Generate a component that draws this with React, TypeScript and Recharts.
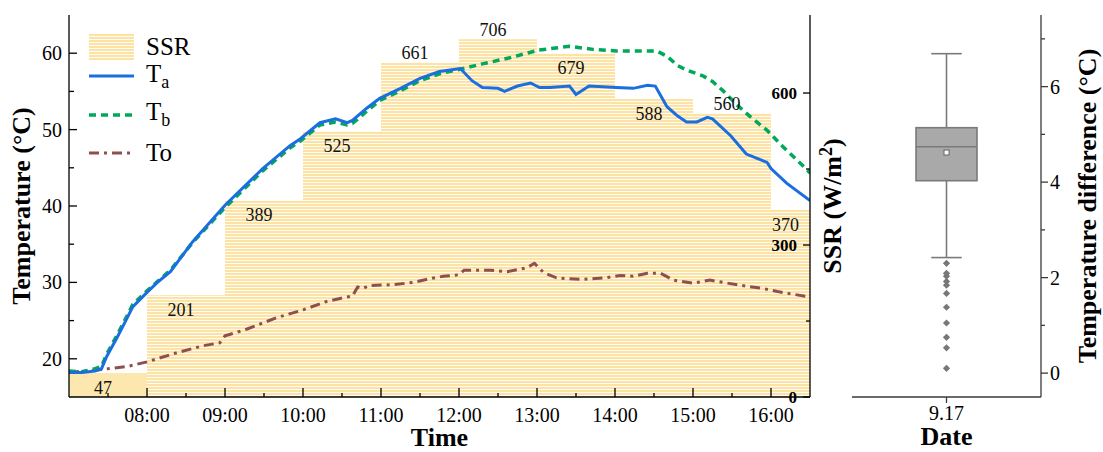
import React from 'react';
import { ComposedChart, Line, Area, XAxis, YAxis, Legend, Bar, Scatter, Label } from 'recharts';

const FONT = '"Liberation Serif", "Times New Roman", Times, serif';

// ---------------- SSR (hourly bars) ----------------
const ssrStarts = ['07:00', '08:00', '09:00', '10:00', '11:00', '12:00', '13:00', '14:00', '15:00', '16:00'];
const ssrEnds = ['08:00', '09:00', '10:00', '11:00', '12:00', '13:00', '14:00', '15:00', '16:00', '16:30'];
const ssrValues = [47, 201, 389, 525, 661, 706, 679, 588, 560, 370];
const ssrLabelAbove = [false, false, false, false, true, true, false, false, true, false];

// ---------------- Temperatures ----------------
const taTimes = ['07:00', '07:10', '07:20', '07:25', '07:29', '07:37', '07:44', '07:49', '08:00', '08:08', '08:18', '08:35', '09:00', '09:29', '09:50', '09:58', '10:13', '10:25', '10:34', '10:38', '10:49', '10:59', '11:15', '11:30', '11:45', '12:01', '12:10', '12:18', '12:30', '12:35', '12:45', '12:55', '13:02', '13:10', '13:25', '13:30', '13:40', '14:01', '14:14', '14:25', '14:31', '14:40', '14:48', '14:55', '15:03', '15:11', '15:15', '15:29', '15:41', '15:57', '16:00', '16:12', '16:30'];
const taValues = [18.2, 18.2, 18.4, 18.7, 20.3, 22.8, 25.1, 26.8, 28.7, 30.0, 31.4, 35.3, 40.1, 44.9, 47.9, 48.8, 50.9, 51.4, 50.9, 51.2, 52.8, 54.1, 55.4, 56.7, 57.6, 58.0, 56.4, 55.5, 55.4, 55.0, 55.7, 56.1, 55.5, 55.5, 55.7, 54.6, 55.7, 55.5, 55.4, 55.8, 55.7, 53.0, 51.8, 51.0, 51.0, 51.6, 51.4, 49.2, 46.8, 45.7, 44.9, 43.0, 40.7];

const tbTimes = ['07:00', '07:10', '07:20', '07:25', '07:29', '07:37', '07:44', '07:49', '08:00', '08:08', '08:18', '08:35', '09:00', '09:29', '09:50', '09:58', '10:13', '10:25', '10:34', '10:38', '10:49', '10:59', '11:15', '11:30', '11:45', '12:01', '12:18', '12:39', '13:01', '13:25', '13:43', '14:01', '14:32', '14:40', '14:48', '14:55', '15:08', '15:15', '15:23', '15:34', '15:44', '15:57', '16:09', '16:28', '16:30'];
const tbValues = [18.4, 18.3, 18.7, 19.0, 20.6, 23.1, 25.4, 27.1, 28.9, 30.1, 31.6, 35.2, 39.8, 44.6, 47.6, 48.5, 50.6, 51.0, 50.6, 50.8, 52.4, 53.8, 55.1, 56.4, 57.3, 57.9, 58.6, 59.4, 60.4, 60.9, 60.5, 60.3, 60.3, 59.6, 58.4, 57.8, 57.0, 56.3, 55.1, 53.2, 51.7, 49.9, 47.8, 44.7, 44.3];

const toTimes = ['07:00', '07:25', '07:45', '08:00', '08:23', '08:43', '08:56', '09:00', '09:17', '09:40', '10:00', '10:18', '10:31', '10:38', '10:42', '10:46', '10:51', '11:09', '11:25', '11:38', '11:48', '12:00', '12:04', '12:24', '12:37', '12:52', '12:58', '13:05', '13:15', '13:23', '13:35', '13:53', '14:04', '14:14', '14:25', '14:35', '14:45', '15:00', '15:13', '15:23', '15:41', '15:54', '16:05', '16:15', '16:30'];
const toValues = [18.2, 18.6, 19.0, 19.6, 20.8, 21.7, 22.1, 23.0, 23.9, 25.4, 26.4, 27.5, 28.0, 28.2, 29.4, 29.2, 29.6, 29.7, 30.0, 30.5, 30.8, 31.0, 31.6, 31.6, 31.4, 31.9, 32.5, 31.3, 30.6, 30.5, 30.4, 30.6, 30.9, 30.8, 31.2, 31.2, 30.3, 29.9, 30.3, 30.0, 29.5, 29.2, 28.8, 28.5, 28.1];

// ---------------- Axis ticks ----------------
const timeAxisTicks = ['07:30', '08:00', '08:30', '09:00', '09:30', '10:00', '10:30', '11:00', '11:30', '12:00', '12:30', '13:00', '13:30', '14:00', '14:30', '15:00', '15:30', '16:00'];
const timeDomain = ['07:00', '16:30'];
const tempAxisTicks = [20, 25, 30, 35, 40, 45, 50, 55, 60];
const tempDomain = [15, 65];
const ssrAxisTicks = [0, 150, 300, 450, 600];
const ssrDomain = [0, 754];

// ---------------- Box plot (temperature difference) ----------------
const boxDate = '9.17';
const boxWhisker = [2.42, 6.69];
const boxQ1 = 4.03;
const boxMedian = 4.74;
const boxQ3 = 5.14;
const boxMean = 4.62;
const boxOutliers = [2.3, 2.09, 2.03, 1.92, 1.84, 1.67, 1.38, 1.05, 0.75, 0.53, 0.1];
const diffAxisTicks = [0, 1, 2, 3, 4, 5, 6, 7];
const diffDomain = [-0.5, 7.5];

// ---------------- Colours ----------------
const BLUE = '#1A6EE0';
const GREEN = '#00A85A';
const BROWN = '#8E4F4F';
const SSR_YELLOW = '#FCE3A3';
const SSR_SOLID = '#FCE7AE';
const BOX_FILL = '#A9A9A9';
const BOX_LINE = '#7A7A7A';
const FRAME2 = '#3A3A3A';

const toMin = (s: string) => {
  const [h, m] = s.split(':').map(Number);
  return h * 60 + m;
};
const fmt = (m: number) =>
  `${String(Math.floor(m / 60)).padStart(2, '0')}:${String(m % 60).padStart(2, '0')}`;

// build merged table for the left chart
type Row = { t: number; [k: string]: any };
const rowMap = new Map<number, Row>();
const put = (m: number, key: string, v: any) => {
  let r = rowMap.get(m);
  if (!r) {
    r = { t: m };
    rowMap.set(m, r);
  }
  r[key] = v;
};
taTimes.forEach((s, i) => put(toMin(s), 'Ta', taValues[i]));
tbTimes.forEach((s, i) => put(toMin(s), 'Tb', tbValues[i]));
toTimes.forEach((s, i) => put(toMin(s), 'To', toValues[i]));
ssrStarts.forEach((s, i) => put(toMin(s), 'ssr', ssrValues[i]));
put(toMin(ssrEnds[ssrEnds.length - 1]), 'ssr', ssrValues[ssrValues.length - 1]);
put(toMin(ssrStarts[0]), 'ssrSolid', ssrValues[0]);
put(toMin(ssrEnds[0]), 'ssrSolid', ssrValues[0]);
ssrStarts.forEach((s, i) => {
  const mid = (toMin(s) + toMin(ssrEnds[i])) / 2;
  put(mid, 'ssrMid', ssrValues[i]);
  put(mid, 'ssrAbove', ssrLabelAbove[i]);
});
const lineData = Array.from(rowMap.values()).sort((a, b) => a.t - b.t);

const boxData = [{ date: boxDate, whisker: boxWhisker, q1: boxQ1, median: boxMedian, q3: boxQ3 }];
const outlierData = boxOutliers.map((v) => ({ date: boxDate, v }));
const meanData = [{ date: boxDate, v: boxMean }];

// ---------------- Ticks ----------------
const TimeTick = (props: any) => {
  const { x, y, payload } = props;
  const v = payload.value as number;
  const major = v % 60 === 0;
  return (
    <g>
      <line x1={x} x2={x} y1={y} y2={y - (major ? 9 : 4)} stroke="#000" strokeWidth={1.3} />
      {major && (
        <text x={x} y={y + 25} textAnchor="middle" fontFamily={FONT} fontSize={20} fill="#000">
          {fmt(v)}
        </text>
      )}
    </g>
  );
};

const TempTick = (props: any) => {
  const { x, y, payload } = props;
  const v = payload.value as number;
  const major = v % 10 === 0;
  return (
    <g>
      <line x1={x} x2={x + (major ? 8 : 5)} y1={y} y2={y} stroke="#000" strokeWidth={1.3} />
      {major && (
        <text x={x - 7} y={y + 7} textAnchor="end" fontFamily={FONT} fontSize={20} fill="#000">
          {v}
        </text>
      )}
    </g>
  );
};

const SsrTick = (props: any) => {
  const { x, y, payload } = props;
  const v = payload.value as number;
  const major = v % 300 === 0;
  return (
    <g>
      <line x1={x} x2={x - (major ? 7 : 4)} y1={y} y2={y} stroke="#000" strokeWidth={1.3} />
      {major && (
        <text x={x - 13} y={y + 6} textAnchor="end" fontFamily={FONT} fontSize={17} fontWeight="bold" fill="#000">
          {v}
        </text>
      )}
    </g>
  );
};

const DiffTick = (props: any) => {
  const { x, y, payload } = props;
  const v = payload.value as number;
  const major = v % 2 === 0;
  return (
    <g>
      <line x1={x} x2={x + (major ? 7 : 4)} y1={y} y2={y} stroke={FRAME2} strokeWidth={1.3} />
      {major && (
        <text x={x + 9} y={y + 7} textAnchor="start" fontFamily={FONT} fontSize={20} fill="#000">
          {v}
        </text>
      )}
    </g>
  );
};

const DateTick = (props: any) => {
  const { x, y, payload } = props;
  return (
    <g>
      <line x1={x} x2={x} y1={y} y2={y + 6} stroke={FRAME2} strokeWidth={1.3} />
      <text x={x} y={y + 23} textAnchor="middle" fontFamily={FONT} fontSize={20} fill="#000">
        {payload.value}
      </text>
    </g>
  );
};

// ---------------- Axis titles ----------------
const vTitle = (content: React.ReactNode, dxFromAxisLeft: number) => (props: any) => {
  const vb = props.viewBox || {};
  const cx = (vb.x ?? 0) + dxFromAxisLeft;
  const cy = (vb.y ?? 0) + (vb.height ?? 0) / 2;
  return (
    <text
      x={cx}
      y={cy}
      transform={`rotate(-90, ${cx}, ${cy})`}
      textAnchor="middle"
      fontFamily={FONT}
      fontSize={26}
      fontWeight="bold"
      fill="#000"
    >
      {content}
    </text>
  );
};

const hTitle = (content: React.ReactNode, dyFromAxisTop: number) => (props: any) => {
  const vb = props.viewBox || {};
  const cx = (vb.x ?? 0) + (vb.width ?? 0) / 2;
  const cy = (vb.y ?? 0) + dyFromAxisTop;
  return (
    <text x={cx} y={cy} textAnchor="middle" fontFamily={FONT} fontSize={26} fontWeight="bold" fill="#000">
      {content}
    </text>
  );
};

// ---------------- SSR value labels ----------------
const SsrValueLabel = (props: any) => {
  const { cx, cy, payload, index } = props;
  if (cy == null || cx == null || payload == null || payload.ssrMid == null) return <g key={`sl-${index}`} />;
  const above = !!payload.ssrAbove;
  return (
    <text
      key={`sl-${index}`}
      x={cx - 5}
      y={above ? cy - 9 + 6 : cy + 15 + 6}
      textAnchor="middle"
      fontFamily={FONT}
      fontSize={18}
      fill="#111"
    >
      {payload.ssrMid}
    </text>
  );
};

// ---------------- Legend ----------------
const LegendBox = () => (
  <svg width={170} height={150} style={{ display: 'block', overflow: 'visible' }}>
    <defs>
      <pattern id="ssrStripesLegend" x="0" y="0" width="6" height="3" patternUnits="userSpaceOnUse">
        <rect width="6" height="3" fill={SSR_YELLOW} />
        <rect y="2" width="6" height="1" fill="#FFFFFF" opacity="0.9" />
      </pattern>
    </defs>
    <rect x={4} y={8} width={45} height={27} fill="url(#ssrStripesLegend)" />
    <text x={61} y={30} fontFamily={FONT} fontSize={25} fill="#000">SSR</text>
    <line x1={4} x2={49} y1={51} y2={51} stroke={BLUE} strokeWidth={3} />
    <text x={61} y={57} fontFamily={FONT} fontSize={25} fill="#000">
      T<tspan dy={6} fontSize={18}>a</tspan>
    </text>
    <line x1={4} x2={49} y1={90} y2={90} stroke={GREEN} strokeWidth={3.5} strokeDasharray="7 5" />
    <text x={61} y={95} fontFamily={FONT} fontSize={25} fill="#000">
      T<tspan dy={6} fontSize={18}>b</tspan>
    </text>
    <line x1={4} x2={49} y1={128} y2={128} stroke={BROWN} strokeWidth={3} strokeDasharray="10 5 3 5" />
    <text x={61} y={136} fontFamily={FONT} fontSize={25} fill="#000">To</text>
  </svg>
);

// ---------------- Box shapes ----------------
const BoxShape = (props: any) => {
  const { x, y, width, height, payload } = props;
  if (payload == null) return <g />;
  const top = Math.min(y, y + height);
  const h = Math.abs(height);
  const [lo, hi] = payload.whisker;
  const py = (v: number) => top + (h * (hi - v)) / (hi - lo);
  const cx = x + width / 2;
  const cap = width / 4;
  return (
    <g>
      <line x1={cx} x2={cx} y1={top} y2={top + h} stroke={BOX_LINE} strokeWidth={1.6} />
      <line x1={cx - cap} x2={cx + cap} y1={top} y2={top} stroke={BOX_LINE} strokeWidth={1.6} />
      <line x1={cx - cap} x2={cx + cap} y1={top + h} y2={top + h} stroke={BOX_LINE} strokeWidth={1.6} />
      <rect
        x={x}
        y={py(payload.q3)}
        width={width}
        height={py(payload.q1) - py(payload.q3)}
        fill={BOX_FILL}
        stroke={BOX_LINE}
        strokeWidth={1.6}
      />
      <line x1={x} x2={x + width} y1={py(payload.median)} y2={py(payload.median)} stroke={BOX_LINE} strokeWidth={1.6} />
    </g>
  );
};

const DiamondShape = (props: any) => {
  const { cx, cy } = props;
  if (cx == null || cy == null) return <g />;
  const r = 3.6;
  return <path d={`M${cx},${cy - r}L${cx + r},${cy}L${cx},${cy + r}L${cx - r},${cy}Z`} fill="#777" />;
};

const MeanShape = (props: any) => {
  const { cx, cy } = props;
  if (cx == null || cy == null) return <g />;
  return <rect x={cx - 2.5} y={cy - 2.5} width={5} height={5} fill="#FFF" stroke="#666" strokeWidth={1} />;
};

const axisLineBlack = { stroke: '#000', strokeWidth: 1.3 };
const axisLineGray = { stroke: FRAME2, strokeWidth: 1.3 };

export default function App() {
  const tDomain = timeDomain.map(toMin);
  const tTicks = timeAxisTicks.map(toMin);
  return (
    <div
      style={{
        position: 'absolute',
        left: 0,
        top: 0,
        width: 1103,
        height: 452,
        background: '#fff',
        fontFamily: FONT,
      }}
    >
      <div style={{ position: 'absolute', left: 0, top: 0 }}>
        <ComposedChart width={850} height={452} data={lineData} margin={{ top: 15, right: 0, bottom: 0, left: 0 }}>
          <defs>
            <pattern id="ssrStripes" x="0" y="0" width="6" height="3" patternUnits="userSpaceOnUse">
              <rect width="6" height="3" fill={SSR_YELLOW} />
              <rect y="2" width="6" height="1" fill="#FFFFFF" opacity="0.9" />
            </pattern>
          </defs>
          <XAxis
            dataKey="t"
            type="number"
            domain={tDomain}
            ticks={tTicks}
            interval={0}
            tickSize={0}
            tickMargin={0}
            tickLine={false}
            tick={TimeTick}
            axisLine={axisLineBlack}
            height={55}
            allowDataOverflow
          >
            <Label content={hTitle('Time', 49)} />
          </XAxis>
          <XAxis
            xAxisId="top"
            orientation="top"
            dataKey="t"
            type="number"
            domain={tDomain}
            height={0}
            tick={false}
            tickLine={false}
            axisLine={axisLineBlack}
            allowDataOverflow
          />
          <YAxis
            yAxisId="temp"
            type="number"
            domain={tempDomain}
            ticks={tempAxisTicks}
            interval={0}
            tickSize={0}
            tickMargin={0}
            tickLine={false}
            tick={TempTick}
            axisLine={axisLineBlack}
            width={69}
            allowDataOverflow
          >
            <Label content={vTitle('Temperature (°C)', 30)} />
          </YAxis>
          <YAxis
            yAxisId="ssr"
            orientation="right"
            type="number"
            domain={ssrDomain}
            ticks={ssrAxisTicks}
            interval={0}
            tickSize={0}
            tickMargin={0}
            tickLine={false}
            tick={SsrTick}
            axisLine={axisLineBlack}
            width={40}
            allowDataOverflow
          >
            <Label
              content={vTitle(
                <>
                  SSR (W/m<tspan dy={-9} fontSize={18}>2</tspan>
                  <tspan dy={9}>)</tspan>
                </>,
                31
              )}
            />
          </YAxis>
          <Area
            yAxisId="ssr"
            dataKey="ssr"
            type="stepAfter"
            fill="url(#ssrStripes)"
            fillOpacity={1}
            stroke="none"
            connectNulls
            isAnimationActive={false}
            activeDot={false}
          />
          <Area
            yAxisId="ssr"
            dataKey="ssrSolid"
            type="stepAfter"
            fill={SSR_SOLID}
            fillOpacity={1}
            stroke="none"
            connectNulls
            isAnimationActive={false}
            activeDot={false}
          />
          <Line
            yAxisId="ssr"
            dataKey="ssrMid"
            stroke="none"
            dot={SsrValueLabel}
            activeDot={false}
            isAnimationActive={false}
            legendType="none"
          />
          <Line
            yAxisId="temp"
            dataKey="To"
            stroke={BROWN}
            strokeWidth={3}
            strokeDasharray="10 5 3 5"
            dot={false}
            activeDot={false}
            connectNulls
            isAnimationActive={false}
          />
          <Line
            yAxisId="temp"
            dataKey="Tb"
            stroke={GREEN}
            strokeWidth={3.5}
            strokeDasharray="7 5"
            dot={false}
            activeDot={false}
            connectNulls
            isAnimationActive={false}
          />
          <Line
            yAxisId="temp"
            dataKey="Ta"
            stroke={BLUE}
            strokeWidth={3}
            dot={false}
            activeDot={false}
            connectNulls
            isAnimationActive={false}
          />
          <Legend
            layout="vertical"
            align="center"
            verticalAlign="middle"
            wrapperStyle={{ left: 85, top: 25, width: 170, height: 150 }}
            content={() => <LegendBox />}
          />
        </ComposedChart>
      </div>
      <div style={{ position: 'absolute', left: 850, top: 0 }}>
        <ComposedChart width={253} height={452} data={boxData} margin={{ top: 15, right: 0, bottom: 0, left: 2 }}>
          <XAxis
            dataKey="date"
            type="category"
            allowDuplicatedCategory={false}
            height={55}
            tickSize={0}
            tickMargin={0}
            tickLine={false}
            tick={DateTick}
            axisLine={axisLineGray}
          >
            <Label content={hTitle('Date', 48)} />
          </XAxis>
          <XAxis
            xAxisId="top"
            orientation="top"
            dataKey="date"
            type="category"
            allowDuplicatedCategory={false}
            height={0}
            tick={false}
            tickLine={false}
            axisLine={axisLineGray}
          />
          <YAxis
            yAxisId="frame"
            orientation="left"
            type="number"
            domain={diffDomain}
            width={0}
            tick={false}
            tickLine={false}
            axisLine={axisLineGray}
          />
          <YAxis
            orientation="right"
            type="number"
            domain={diffDomain}
            ticks={diffAxisTicks}
            interval={0}
            tickSize={0}
            tickMargin={0}
            tickLine={false}
            tick={DiffTick}
            axisLine={axisLineGray}
            width={62}
          >
            <Label content={vTitle('Temperature difference (°C)', 55)} />
          </YAxis>
          <Bar dataKey="whisker" barSize={61} shape={BoxShape} isAnimationActive={false} />
          <Scatter data={outlierData} dataKey="v" shape={DiamondShape} isAnimationActive={false} />
          <Scatter data={meanData} dataKey="v" shape={MeanShape} isAnimationActive={false} />
        </ComposedChart>
      </div>
    </div>
  );
}
